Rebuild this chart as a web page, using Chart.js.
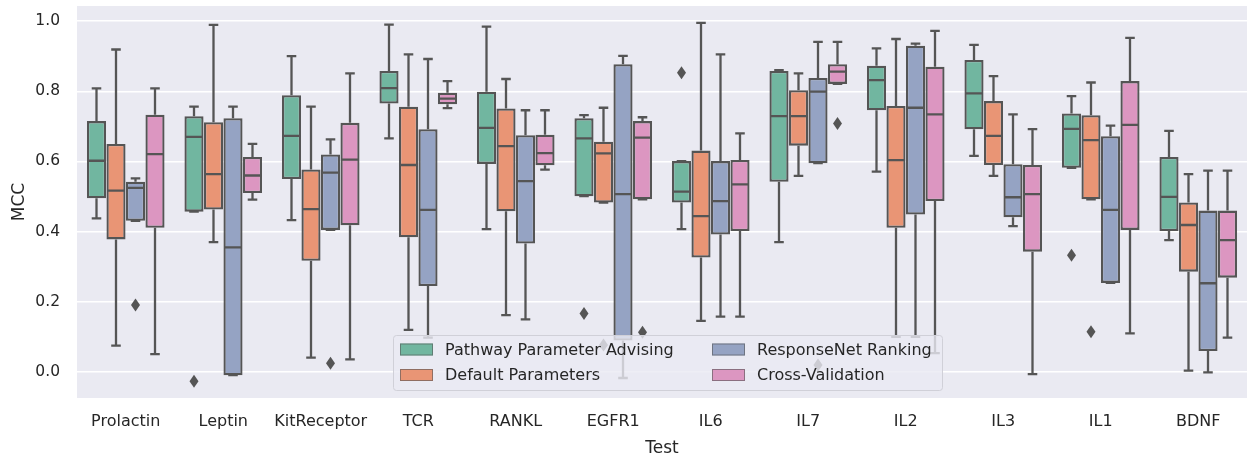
<!DOCTYPE html>
<html>
<head>
<meta charset="utf-8">
<script src="https://cdn.jsdelivr.net/npm/chart.js@4.4.1/dist/chart.umd.min.js"></script>
<style>
  html, body { margin: 0; padding: 0; background: #ffffff; }
  #wrap { width: 1248px; height: 463px; position: relative; }
</style>
</head>
<body>
<div id="wrap"><canvas id="mccChart" width="1248" height="463"></canvas></div>
<script>
// categories and hue groups
const tests = ['Prolactin', 'Leptin', 'KitReceptor', 'TCR', 'RANKL', 'EGFR1', 'IL6', 'IL7', 'IL2', 'IL3', 'IL1', 'BDNF'];
const methods = ['Pathway Parameter Advising', 'Default Parameters', 'ResponseNet Ranking', 'Cross-Validation'];
const yTicks = [0.0, 0.2, 0.4, 0.6, 0.8, 1.0];

// five-number summaries per test: [whisker low, q1, median, q3, whisker high]
const advisingStats = [
    [0.438, 0.495, 0.602, 0.715, 0.808],
    [0.457, 0.457, 0.670, 0.729, 0.756],
    [0.433, 0.550, 0.673, 0.789, 0.900],
    [0.666, 0.765, 0.809, 0.858, 0.990],
    [0.407, 0.593, 0.696, 0.799, 0.984],
    [0.501, 0.501, 0.666, 0.723, 0.732],
    [0.407, 0.483, 0.514, 0.601, 0.601],
    [0.370, 0.542, 0.729, 0.858, 0.860],
    [0.571, 0.746, 0.832, 0.873, 0.922],
    [0.616, 0.692, 0.794, 0.889, 0.932],
    [0.582, 0.582, 0.693, 0.737, 0.786],
    [0.376, 0.402, 0.499, 0.613, 0.687]
];
const defaultStats = [
    [0.075, 0.378, 0.517, 0.650, 0.919],
    [0.370, 0.463, 0.564, 0.712, 0.989],
    [0.041, 0.317, 0.464, 0.577, 0.756],
    [0.120, 0.384, 0.590, 0.756, 0.905],
    [0.162, 0.458, 0.644, 0.751, 0.835],
    [0.483, 0.483, 0.623, 0.656, 0.753],
    [0.146, 0.326, 0.444, 0.631, 0.995],
    [0.559, 0.645, 0.729, 0.803, 0.851],
    [0.100, 0.411, 0.604, 0.758, 0.949],
    [0.559, 0.590, 0.673, 0.772, 0.843],
    [0.492, 0.492, 0.661, 0.732, 0.825],
    [0.004, 0.286, 0.419, 0.483, 0.564]
];
const responseNetStats = [
    [0.431, 0.431, 0.525, 0.542, 0.552],
    [-0.009, -0.009, 0.355, 0.723, 0.756],
    [0.405, 0.405, 0.568, 0.620, 0.663],
    [0.098, 0.245, 0.462, 0.692, 0.892],
    [0.150, 0.366, 0.544, 0.675, 0.746],
    [-0.017, 0.090, 0.507, 0.877, 0.901],
    [0.158, 0.392, 0.487, 0.601, 0.905],
    [0.595, 0.595, 0.799, 0.838, 0.941],
    [0.100, 0.449, 0.753, 0.930, 0.936],
    [0.416, 0.441, 0.498, 0.592, 0.734],
    [0.254, 0.254, 0.462, 0.672, 0.702],
    [-0.001, 0.060, 0.253, 0.460, 0.574]
];
const crossValStats = [
    [0.051, 0.411, 0.621, 0.733, 0.808],
    [0.491, 0.510, 0.560, 0.613, 0.650],
    [0.036, 0.418, 0.605, 0.710, 0.851],
    [0.752, 0.763, 0.779, 0.796, 0.829],
    [0.577, 0.589, 0.624, 0.676, 0.746],
    [0.492, 0.492, 0.668, 0.715, 0.726],
    [0.158, 0.402, 0.535, 0.604, 0.680],
    [0.821, 0.821, 0.856, 0.877, 0.941],
    [0.054, 0.487, 0.734, 0.870, 0.972],
    [-0.006, 0.343, 0.507, 0.590, 0.692],
    [0.110, 0.405, 0.704, 0.829, 0.952],
    [0.098, 0.269, 0.376, 0.460, 0.574]
];

// outliers per test
const advisingOutliers    = [[], [-0.026], [], [], [], [0.167], [0.853], [], [], [], [0.333], []];
const defaultOutliers     = [[], [], [], [], [], [0.077], [], [], [], [], [0.115], []];
const responseNetOutliers = [[0.191], [], [0.025], [], [], [], [], [0.020], [], [], [], []];
const crossValOutliers    = [[], [], [], [], [], [0.113], [], [0.708], [], [], [], []];

const allStats = [advisingStats, defaultStats, responseNetStats, crossValStats];
const allOutliers = [advisingOutliers, defaultOutliers, responseNetOutliers, crossValOutliers];
const colors = ['#71b6a0', '#e99575', '#95a3c3', '#dc96c1'];

const LINE = '#555555';
const FONT = "'DejaVu Sans', sans-serif";

// axes background
const backgroundPlugin = {
    id: 'axesBackground',
    beforeDraw(chart) {
        const { ctx, chartArea: a } = chart;
        ctx.save();
        ctx.fillStyle = '#eaeaf2';
        ctx.fillRect(a.left, a.top, a.right - a.left, a.bottom - a.top);
        ctx.restore();
    }
};

// whiskers, caps, medians and outliers on top of the box bars
const boxPlugin = {
    id: 'boxExtras',
    afterDatasetsDraw(chart) {
        const ctx = chart.ctx;
        const y = chart.scales.y;
        ctx.save();
        ctx.strokeStyle = LINE;
        ctx.fillStyle = LINE;
        ctx.lineWidth = 2.3;
        allStats.forEach((stats, di) => {
            const meta = chart.getDatasetMeta(di);
            meta.data.forEach((bar, i) => {
                const [lo, q1, med, q3, hi] = stats[i];
                const cx = bar.x;
                const w = bar.width;
                const cap = w / 4;
                ctx.beginPath();
                ctx.moveTo(cx, y.getPixelForValue(q3));
                ctx.lineTo(cx, y.getPixelForValue(hi));
                ctx.moveTo(cx, y.getPixelForValue(q1));
                ctx.lineTo(cx, y.getPixelForValue(lo));
                ctx.moveTo(cx - cap, y.getPixelForValue(hi));
                ctx.lineTo(cx + cap, y.getPixelForValue(hi));
                ctx.moveTo(cx - cap, y.getPixelForValue(lo));
                ctx.lineTo(cx + cap, y.getPixelForValue(lo));
                ctx.moveTo(cx - w / 2 + 1, y.getPixelForValue(med));
                ctx.lineTo(cx + w / 2 - 1, y.getPixelForValue(med));
                ctx.stroke();
                allOutliers[di][i].forEach(v => {
                    const py = y.getPixelForValue(v);
                    ctx.beginPath();
                    ctx.moveTo(cx, py - 6.5);
                    ctx.lineTo(cx + 4.5, py);
                    ctx.lineTo(cx, py + 6.5);
                    ctx.lineTo(cx - 4.5, py);
                    ctx.closePath();
                    ctx.fill();
                });
            });
        });
        ctx.restore();
    }
};

// legend box inside the plot, two columns
const legendPlugin = {
    id: 'innerLegend',
    afterDraw(chart) {
        const ctx = chart.ctx;
        const box = { x: 393, y: 335, w: 549, h: 55 };
        ctx.save();
        ctx.beginPath();
        ctx.roundRect(box.x + 0.5, box.y + 0.5, box.w, box.h, 3);
        ctx.fillStyle = 'rgba(234,234,242,0.8)';
        ctx.fill();
        ctx.strokeStyle = '#d0d0d8';
        ctx.lineWidth = 1;
        ctx.stroke();
        const cols = [400, 712];
        const rows = [349.5, 375];
        ctx.font = '16px ' + FONT;
        ctx.textBaseline = 'middle';
        methods.forEach((name, k) => {
            const col = Math.floor(k / 2);
            const row = k % 2;
            const hx = cols[col];
            const hy = rows[row];
            ctx.fillStyle = colors[k];
            ctx.fillRect(hx, hy - 6, 33, 12);
            ctx.strokeStyle = LINE;
            ctx.lineWidth = 1;
            ctx.globalAlpha = 0.6;
            ctx.strokeRect(hx + 0.5, hy - 5.5, 32, 11);
            ctx.globalAlpha = 1;
            ctx.fillStyle = '#262626';
            ctx.fillText(name, hx + 45, hy + 1);
        });
        ctx.restore();
    }
};

const datasets = allStats.map((stats, k) => ({
    label: methods[k],
    data: stats.map(s => [s[1], s[3]]),
    backgroundColor: colors[k],
    borderColor: LINE,
    borderWidth: 2.3,
    borderSkipped: false,
    barPercentage: 0.98,
    categoryPercentage: 0.8
}));

new Chart(document.getElementById('mccChart'), {
    type: 'bar',
    data: { labels: tests, datasets: datasets },
    options: {
        responsive: false,
        animation: false,
        layout: { padding: { top: 6, right: 1, left: 0, bottom: 0 } },
        plugins: {
            legend: { display: false },
            tooltip: { enabled: false }
        },
        scales: {
            x: {
                grid: { display: false, drawTicks: false },
                border: { display: false },
                ticks: { color: '#262626', font: { family: FONT, size: 16 }, padding: 14, maxRotation: 0, minRotation: 0, autoSkip: false },
                title: { display: true, text: 'Test', color: '#262626', font: { family: FONT, size: 17 }, padding: { top: 0, bottom: 4 } },
                afterFit(scale) {
                    scale.height = 65;
                    scale.paddingLeft = 0;
                    scale.paddingRight = 0;
                }
            },
            y: {
                min: -0.074,
                max: 1.043,
                afterBuildTicks(scale) { scale.ticks = yTicks.map(v => ({ value: v })); },
                grid: { color: '#ffffff', lineWidth: 1.4, drawTicks: false },
                border: { display: false },
                ticks: {
                    color: '#262626',
                    font: { family: FONT, size: 15.5 },
                    padding: 17,
                    callback: v => v.toFixed(1)
                },
                title: { display: true, text: 'MCC', color: '#262626', font: { family: FONT, size: 17 }, padding: { top: 9, bottom: 0 } },
                afterFit(scale) {
                    scale.width = 77;
                    scale.paddingTop = 0;
                    scale.paddingBottom = 0;
                }
            }
        }
    },
    plugins: [backgroundPlugin, boxPlugin, legendPlugin]
});
</script>
</body>
</html>
